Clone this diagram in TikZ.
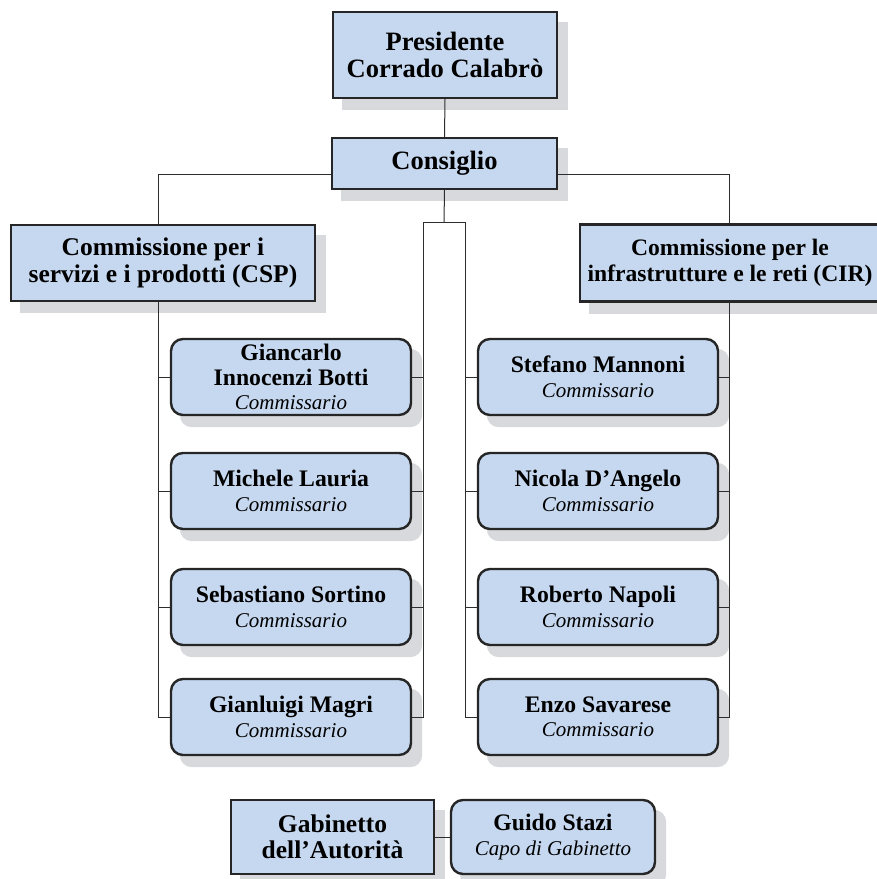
\documentclass[tikz,border=0pt]{standalone}
\usepackage{fontspec}
\setmainfont{Liberation Serif}
\usetikzlibrary{positioning, backgrounds, calc}

\definecolor{boxblue}{RGB}{198,216,239}
\definecolor{shadowgray}{RGB}{216,217,220}
\definecolor{linegray}{RGB}{45,45,45}

% italic role line under a member name
\newcommand{\rolename}[1]{\\{\mdseries\itshape\fontsize{21}{24}\selectfont #1}}

\begin{document}
\begin{tikzpicture}[x=1pt, y=-1pt,
  topbox/.style={rectangle, draw=black!85, line width=2.4pt, fill=boxblue, align=center, inner sep=0pt, font=\fontsize{26.5}{27.5}\selectfont\bfseries},
  commbox/.style={topbox, font=\fontsize{25.5}{26.5}\selectfont\bfseries},
  membox/.style={topbox, rounded corners=12pt, font=\fontsize{23.7}{24.5}\selectfont\bfseries, minimum width=240pt, minimum height=76pt},
  link/.style={draw=linegray, line width=1pt},
  boxshadow/.style={fill=shadowgray, draw=none}
]

\clip (0,0) rectangle (877,879);

% ============================================
% TOP: President and Council
% ============================================
\node[topbox, minimum width=224pt, minimum height=86pt] (pres) at (445,55) {Presidente\\Corrado Calabrò};
\node[topbox, minimum width=225pt, minimum height=51pt] (cons) at (444.5,163.5) {Consiglio};

% ============================================
% COMMISSIONS
% ============================================
\node[commbox, minimum width=304pt, minimum height=76pt] (csp) at (163,263) {Commissione per i\\servizi e i prodotti (CSP)};
\node[commbox, minimum width=300pt, minimum height=77pt, font=\fontsize{23.6}{26.5}\selectfont\bfseries] (cir) at (730,263) {Commissione per le\\infrastrutture e le reti (CIR)};

% ============================================
% COMMISSIONERS
% ============================================
\node[membox] (l1) at (291,377) {Giancarlo\\Innocenzi Botti\rolename{Commissario}};
\node[membox] (l2) at (291,491) {Michele Lauria\rolename{Commissario}};
\node[membox] (l3) at (291,607) {Sebastiano Sortino\rolename{Commissario}};
\node[membox] (l4) at (291,717) {Gianluigi Magri\rolename{Commissario}};

\node[membox] (r1) at (598,377) {Stefano Mannoni\rolename{Commissario}};
\node[membox] (r2) at (598,491) {Nicola D’Angelo\rolename{Commissario}};
\node[membox] (r3) at (598,607) {Roberto Napoli\rolename{Commissario}};
\node[membox] (r4) at (598,717) {Enzo Savarese\rolename{Commissario}};

% ============================================
% CABINET
% ============================================
\node[commbox, minimum width=203pt, minimum height=74pt] (gab) at (332.5,837) {Gabinetto\\dell’Autorità};
\node[membox, minimum width=204pt, minimum height=74pt] (capo) at (553,837) {Guido Stazi\rolename{Capo di Gabinetto}};

% bus corners
\coordinate (lbus) at (158.5,174);
\coordinate (rbus) at (729.5,174);
\coordinate (mid) at (444,222);
\coordinate (ml) at (423,222);
\coordinate (mr) at (465,222);

\begin{scope}[on background layer]
  % shadows
  \foreach \n in {pres, cons, csp, cir, gab} {
    \fill[boxshadow] ([shift={(10,11)}]\n.north west) rectangle ([shift={(10,11)}]\n.south east);
  }
  \foreach \n in {l1, l2, l3, l4, r1, r2, r3, r4, capo} {
    \fill[boxshadow, rounded corners=12pt] ([shift={(10,11)}]\n.north west) rectangle ([shift={(10,11)}]\n.south east);
  }

  % connectors
  \draw[link] (pres.south) -- (cons.north);
  \draw[link] (cons.west |- lbus) -- (lbus) -- (lbus |- l4.west) -- (l4.west);
  \draw[link] (cons.east |- rbus) -- (rbus) -- (rbus |- r4.east) -- (r4.east);
  \draw[link] (cons.south) -- (mid);
  \draw[link] (l4.east) -- (ml |- l4.east) -- (ml) -- (mr) -- (mr |- r4.west) -- (r4.west);
  \foreach \i in {1,2,3} {
    \draw[link] (lbus |- l\i.west) -- (l\i.west);
    \draw[link] (ml |- l\i.east) -- (l\i.east);
    \draw[link] (mr |- r\i.west) -- (r\i.west);
    \draw[link] (rbus |- r\i.east) -- (r\i.east);
  }
  \draw[link] (gab) -- (capo);
\end{scope}

\end{tikzpicture}
\end{document}
